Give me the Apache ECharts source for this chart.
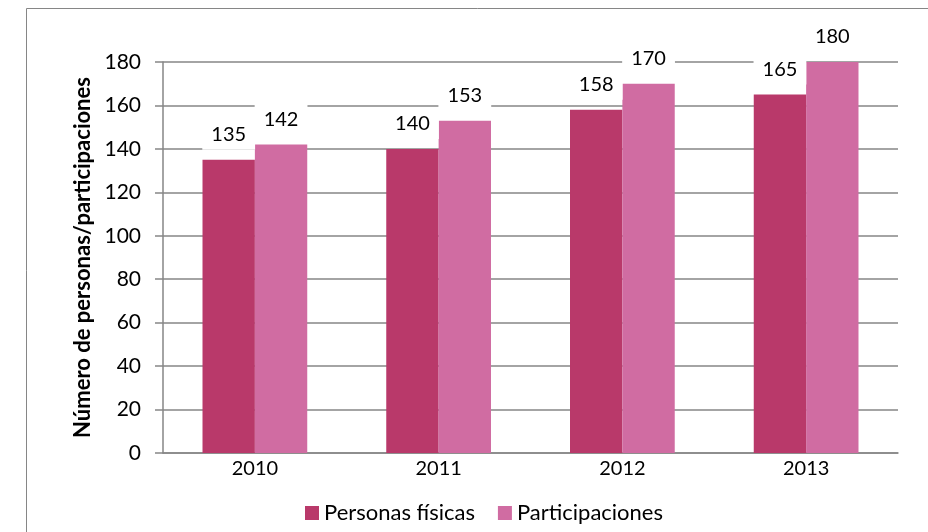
<!DOCTYPE html>
<html>
<head>
<meta charset="utf-8">
<script src="https://cdn.jsdelivr.net/npm/echarts@6/dist/echarts.min.js"></script>
<style>
  html, body { margin: 0; padding: 0; background: #fff; }
  #chart { width: 928px; height: 532px; }
</style>
</head>
<body>
<div id="chart"></div>
<script>
// datos
var years = ['2010', '2011', '2012', '2013'];
var personasFisicas = [135, 140, 158, 165];
var participaciones = [142, 153, 170, 180];
var yTicks = [0, 20, 40, 60, 80, 100, 120, 140, 160, 180];

var axisGrey = '#868686';
var font = 'Lato, "Open Sans", sans-serif';

var labelStyle = {
  show: true,
  position: 'top',
  distance: 10,
  color: '#000',
  fontFamily: font,
  fontSize: 20,
  backgroundColor: '#fff',
  padding: [5, 9, 5, 9]
};

var myChart = echarts.init(document.getElementById('chart'));
var option = {
  animation: false,
  textStyle: { fontFamily: font },
  graphic: [{
    type: 'rect',
    left: 24, top: 6,
    shape: { width: 1000, height: 1000 },
    style: { fill: 'none', stroke: axisGrey, lineWidth: 1 },
    silent: true
  }],
  grid: { left: 163, right: 30, top: 62, bottom: 79 },
  legend: {
    bottom: 3,
    left: 300,
    icon: 'rect',
    itemWidth: 14,
    itemHeight: 14,
    itemGap: 23,
    textStyle: { fontFamily: font, fontSize: 22, color: '#000' },
    data: ['Personas físicas', 'Participaciones']
  },
  xAxis: {
    type: 'category',
    data: years,
    axisLine: { lineStyle: { color: axisGrey, width: 1.5 } },
    axisTick: { length: 7, lineStyle: { color: axisGrey, width: 1.5 } },
    axisLabel: { color: '#000', fontSize: 20, fontFamily: font, margin: 6 }
  },
  yAxis: {
    type: 'value',
    min: yTicks[0],
    max: yTicks[yTicks.length - 1],
    interval: 20,
    name: 'Número de personas/participaciones',
    nameLocation: 'middle',
    nameGap: 62,
    nameTextStyle: { color: '#000', fontSize: 22, fontWeight: 'bold', fontFamily: font },
    axisLine: { show: true, lineStyle: { color: axisGrey, width: 1.5 } },
    axisTick: { show: true, length: 8, lineStyle: { color: axisGrey, width: 1.5 } },
    axisLabel: { color: '#000', fontSize: 21, fontFamily: font, margin: 22 },
    splitLine: { lineStyle: { color: axisGrey, width: 1.5 } }
  },
  series: [
    {
      name: 'Personas físicas',
      type: 'bar',
      data: personasFisicas,
      barGap: '0%',
      barCategoryGap: '43%',
      itemStyle: { color: '#B9396A' },
      label: labelStyle
    },
    {
      name: 'Participaciones',
      type: 'bar',
      data: participaciones,
      itemStyle: { color: '#D06CA2' },
      label: labelStyle
    }
  ]
};
myChart.setOption(option);
</script>
</body>
</html>
